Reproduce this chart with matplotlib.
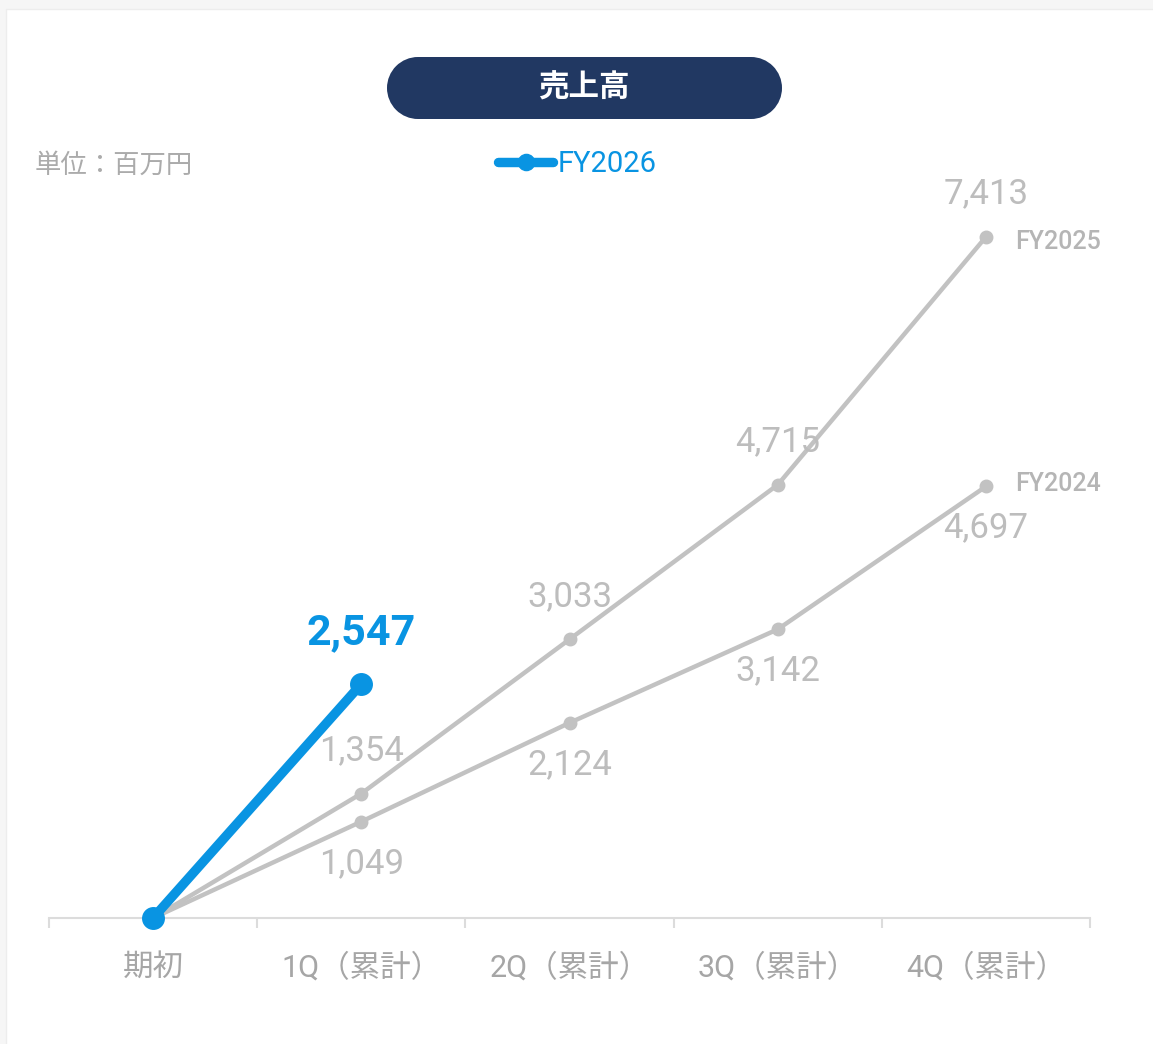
import matplotlib
matplotlib.use("Agg")
import matplotlib.pyplot as plt
from matplotlib.patches import Rectangle, Ellipse
import numpy as np

plt.rcParams['font.family'] = ['Roboto', 'Noto Sans CJK JP', 'DejaVu Sans']

# Data
categories = ['期初', '1Q（累計）', '2Q（累計）', '3Q（累計）', '4Q（累計）']
fy2026 = [0, 2547]
fy2025 = [0, 1354, 3033, 4715, 7413]
fy2024 = [0, 1049, 2124, 3142, 4697]
title = '売上高'
unit_note = '単位：百万円'

BLUE = '#0994e2'
GRAY = '#c2c2c2'
GRAY_TXT = '#bdbdbd'
NAVY = '#213862'

W, H = 1153, 1044
fig = plt.figure(figsize=(W / 100, H / 100), dpi=100)
fig.patch.set_facecolor('#f6f6f6')

# Background card, title pill and unit note in pixel space
bg = fig.add_axes([0, 0, 1, 1], zorder=0)
bg.set_xlim(0, W)
bg.set_ylim(H, 0)
bg.axis('off')
bg.add_patch(Rectangle((6, 9), W, H, facecolor='white', edgecolor='#ededed', lw=1))

# Pill: a rectangle capped by two half-discs
px0, px1, py0, py1 = 387, 782, 57, 119
r = (py1 - py0) / 2
bg.add_patch(Rectangle((px0 + r, py0), px1 - px0 - 2 * r, py1 - py0,
                       facecolor=NAVY, edgecolor='none'))
for cx in (px0 + r, px1 - r):
    bg.add_patch(Ellipse((cx, py0 + r), 2 * r, 2 * r, facecolor=NAVY, edgecolor='none'))
bg.text(584, 88, title, color='white', fontsize=22, fontweight='bold',
        ha='center', va='center', family=['Noto Sans CJK JP'])
bg.text(35, 165, unit_note, color='#ababab', fontsize=19,
        ha='left', va='center', family=['Noto Sans CJK JP'])

# Main chart
ax = fig.add_axes([49 / W, 126 / H, (1090 - 49) / W, (918 - 183) / H], zorder=1)
ax.patch.set_alpha(0)
ax.set_xlim(-0.5, len(categories) - 0.5)
ax.set_ylim(0, 8000)
for s in ['top', 'right', 'left']:
    ax.spines[s].set_visible(False)
ax.spines['bottom'].set_color('#dcdcdc')
ax.spines['bottom'].set_linewidth(1.5)
ax.set_yticks([])

x = np.arange(len(categories))
ax.set_xticks(x)
ax.set_xticklabels(categories)
ax.set_xticks(np.arange(-0.5, len(categories)), minor=True)
ax.tick_params(axis='x', which='major', length=0, pad=25, labelsize=22,
               labelcolor='#a6a6a6')
ax.tick_params(axis='x', which='minor', length=7, width=1.5, color='#dcdcdc',
               direction='out')

ax.plot(x, fy2024, color=GRAY, lw=3.2, marker='o', ms=9, clip_on=False, zorder=3)
ax.plot(x, fy2025, color=GRAY, lw=3.2, marker='o', ms=9, clip_on=False, zorder=3)
blue_line, = ax.plot(x[:len(fy2026)], fy2026, color=BLUE, lw=6.8, marker='o', ms=15.5,
                     solid_capstyle='round', clip_on=False, zorder=5)

label_kw = dict(textcoords='offset points', ha='center', va='center',
                color=GRAY_TXT, fontsize=25)
for xi, v in zip(x[1:], fy2025[1:]):
    ax.annotate(f'{v:,}', (xi, v), xytext=(0, 31), **label_kw)
for xi, v in zip(x[1:], fy2024[1:]):
    ax.annotate(f'{v:,}', (xi, v), xytext=(0, -30), **label_kw)
for xi, v in zip(x[1:len(fy2026)], fy2026[1:]):
    ax.annotate(f'{v:,}', (xi, v), xytext=(0, 37), textcoords='offset points',
                ha='center', va='center', color=BLUE, fontsize=31, fontweight='bold')

# Series names at the line ends
ax.annotate('FY2025', (x[-1], fy2025[-1]), xytext=(21, -4), textcoords='offset points',
            ha='left', va='center', color='#b5b5b5', fontsize=18, fontweight='medium')
ax.annotate('FY2024', (x[-1], fy2024[-1]), xytext=(21, 2), textcoords='offset points',
            ha='left', va='center', color='#b5b5b5', fontsize=18, fontweight='medium')

ax.legend(handles=[blue_line], labels=['FY2026'], loc='center left',
          bbox_to_anchor=(498 / W, 1 - 164 / H), bbox_transform=fig.transFigure,
          frameon=False, fontsize=21, handlelength=1.9, handletextpad=0.15,
          borderpad=0, borderaxespad=0, markerscale=0.75, labelcolor=BLUE)

fig.savefig('out.png', dpi=100, facecolor=fig.get_facecolor())
